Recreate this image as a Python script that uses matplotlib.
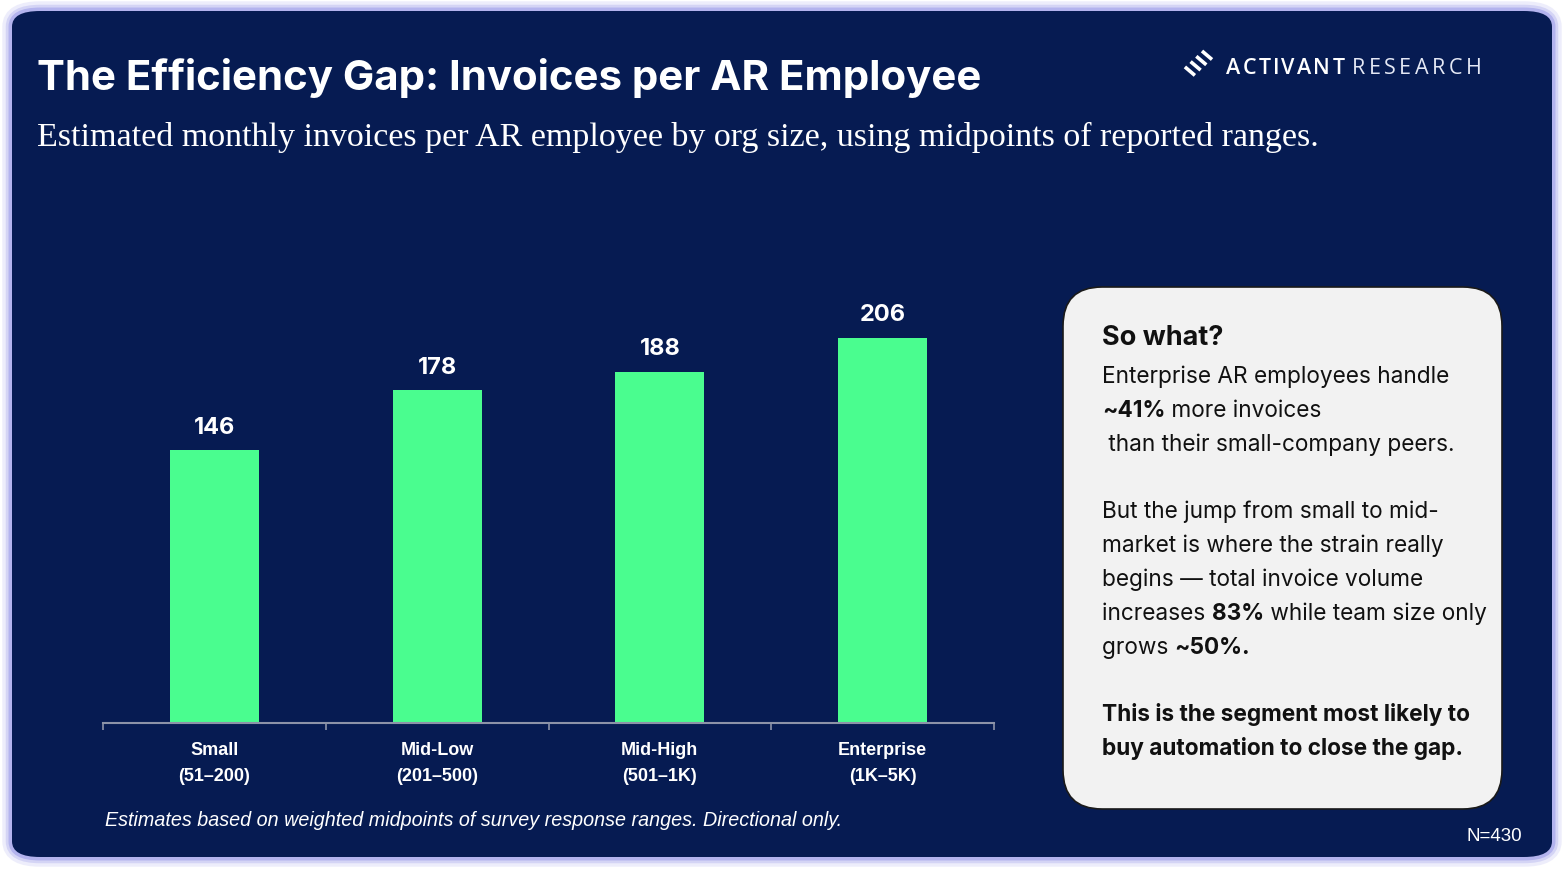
import numpy as np
import matplotlib
matplotlib.use("Agg")
import matplotlib.pyplot as plt
from matplotlib.patches import FancyBboxPatch
from matplotlib.lines import Line2D

# Data
categories = ["Small\n(51–200)", "Mid-Low\n(201–500)", "Mid-High\n(501–1K)", "Enterprise\n(1K–5K)"]
invoices = [146, 178, 188, 206]

NAVY = "#061B52"
GREEN = "#4AFD8F"
W, H = 1564, 870

fig = plt.figure(figsize=(W / 100, H / 100), dpi=100)
fig.patch.set_facecolor("white")
fig.canvas.draw()
r = fig.canvas.get_renderer()

# background panel with soft lavender glow
for lw, a in [(14, 0.15), (9, 0.25), (5, 0.45)]:
    fig.patches.append(FancyBboxPatch((12 / W, 12 / H), 1540 / W, 846 / H,
        boxstyle="round,pad=0,rounding_size=0.018", transform=fig.transFigure,
        facecolor="none", edgecolor="#8C8CE6", linewidth=lw, alpha=a, zorder=0))
fig.patches.append(FancyBboxPatch((12 / W, 12 / H), 1540 / W, 846 / H,
    boxstyle="round,pad=0,rounding_size=0.018", transform=fig.transFigure,
    facecolor=NAVY, edgecolor="none", zorder=1))

# titles
fig.text(37 / W, 1 - 78 / H, "The Efficiency Gap: Invoices per AR Employee", color="white",
         fontsize=30.2, fontweight="bold", family="Inter", va="center", ha="left")
fig.text(37 / W, 1 - 137 / H, "Estimated monthly invoices per AR employee by org size, using midpoints of reported ranges.",
         color="white", fontsize=24.5, family="Liberation Serif", va="center", ha="left")


# logo: stripes + spaced-out wordmark
def tracked_text(x_px, y_px, s, track, **kw):
    # draw letters one by one with extra spacing, return right edge in px
    for ch in s:
        t = fig.text(x_px / W, 1 - y_px / H, ch, va="baseline", ha="left", **kw)
        ext = t.get_window_extent(r)
        x_px += ext.width + track
    return x_px - track


for i in range(4):
    x0 = 1202 - i * 5.7
    y0 = 52 + i * 5.3
    fig.lines.append(Line2D([x0 / W, (x0 + 10) / W], [1 - y0 / H, 1 - (y0 + 8.5) / H],
                            transform=fig.transFigure, color="white", linewidth=2.6,
                            solid_capstyle="butt", zorder=3))
xe = tracked_text(1226, 73.5, "ACTIVANT", 2.2, color="white", fontsize=15.5,
                  family="Open Sans", fontweight="semibold")
tracked_text(xe + 7, 73.5, "RESEARCH", 3.6, color="#E4E8F5", fontsize=15.5,
             family="Open Sans", fontweight="normal")

# bar chart
ax = fig.add_axes([103 / W, (H - 724) / H, 891 / W, 524 / H])
ax.set_zorder(5)
ax.set_facecolor("none")
x = np.arange(len(categories))
ax.bar(x, invoices, width=0.4, color=GREEN, zorder=2)
ax.set_xlim(-0.5, 3.5)
ax.set_ylim(0, 524 / (385 / 206))
for xi, v in zip(x, invoices):
    ax.annotate(str(v), (xi, v), xytext=(0, 9), textcoords="offset points", ha="center",
                va="bottom", color="white", fontsize=17, fontweight="bold", family="Inter")
ax.set_xticks(x)
ax.set_xticklabels(categories, color="white", fontsize=13, fontweight="bold",
                   family="Liberation Sans", linespacing=1.7)
ax.tick_params(axis="x", which="major", length=0, pad=13)
ax.set_xticks(np.arange(-0.5, 4, 1), minor=True)
ax.tick_params(axis="x", which="minor", length=5, color="#8C93A8", width=1.2)
ax.set_yticks([])
for s in ["top", "right", "left"]:
    ax.spines[s].set_visible(False)
ax.spines["bottom"].set_color("#8C93A8")
ax.spines["bottom"].set_linewidth(1.5)

# footnote and sample size
fig.text(105 / W, 1 - 821 / H, "Estimates based on weighted midpoints of survey response ranges. Directional only.",
         color="white", fontsize=14.2, style="italic", family="Liberation Sans", va="center", ha="left")
fig.text(1522 / W, 1 - 837 / H, "N=430", color="white", fontsize=13.5, family="Liberation Sans",
         va="center", ha="right")

# "so what" card
fig.patches.append(FancyBboxPatch((1063 / W, (H - 810) / H), 439 / W, 522 / H,
    boxstyle="round,pad=0,rounding_size=0.025", transform=fig.transFigure,
    facecolor="#F2F2F2", edgecolor="#1A1A1A", linewidth=1.2, zorder=2,
    mutation_aspect=W / H))

fig.text(1102 / W, 1 - 338 / H, "So what?", color="#111111", fontsize=19.5, fontweight="bold",
         family="Inter", va="center", ha="left")

card_lines = [
    (376, [("Enterprise AR employees handle", False)]),
    (410, [("~41%", True), (" more invoices", False)]),
    (444, [(" than their small-company peers.", False)]),
    (511, [("But the jump from small to mid-", False)]),
    (545, [("market is where the strain really", False)]),
    (579, [("begins — total invoice volume", False)]),
    (613, [("increases ", False), ("83%", True), (" while team size only", False)]),
    (647, [("grows ", False), ("~50%.", True)]),
    (714, [("This is the segment most likely to", True)]),
    (748, [("buy automation to close the gap.", True)]),
]
for ypix, parts in card_lines:
    xpos = 1102
    for txt, bold in parts:
        t = fig.text(xpos / W, 1 - (ypix + 7) / H, txt, color="#111111", fontsize=16.3,
                     family="Inter", fontweight="bold" if bold else "normal",
                     va="baseline", ha="left", zorder=4)
        ext = t.get_window_extent(r)
        xpos = ext.x1

fig.savefig("out.png", dpi=100)
